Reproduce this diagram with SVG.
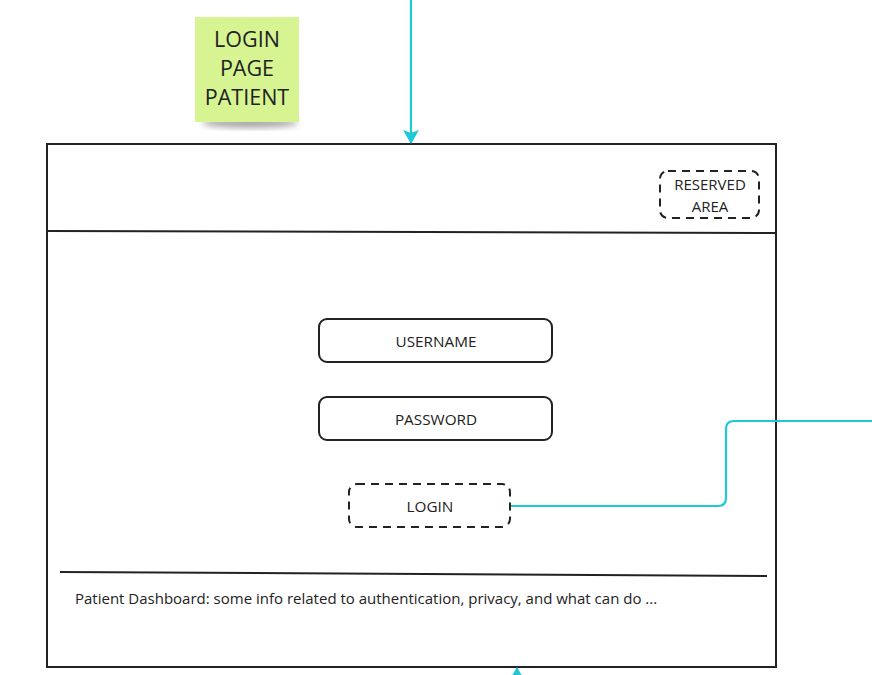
<svg xmlns="http://www.w3.org/2000/svg" width="872" height="675" viewBox="0 0 872 675">
<style>
  .t { font-family: "Open Sans", "Noto Sans", sans-serif; fill: #222; text-anchor: middle; }
  .frame { fill: #fff; stroke: #222; stroke-width: 2; }
  .box { fill: #fff; stroke: #222; stroke-width: 2; }
  .dash { fill: #fff; stroke: #222; stroke-width: 2; stroke-dasharray: 8 6; }
  .conn { fill: none; stroke: #1ec8d4; stroke-width: 2.2; }
</style>
<defs>
  <marker id="arr" viewBox="0 0 14 16" refX="13" refY="8" markerWidth="14" markerHeight="16" orient="auto-start-reverse" markerUnits="userSpaceOnUse">
    <path d="M0,0 L14,8 L0,16 L3,8 z" fill="#1ec8d4"/>
  </marker>
  <filter id="sh" x="-20%" y="-20%" width="140%" height="150%">
    <feGaussianBlur stdDeviation="3"/>
  </filter>
</defs>
<rect width="872" height="675" fill="#fff"/>

<g id="frame">
  <rect class="frame" x="47" y="144" width="729" height="523"/>
  <path d="M47,231 L776,233" stroke="#222" stroke-width="2" fill="none"/>
  <path d="M60,572 L767,576" stroke="#222" stroke-width="2" fill="none"/>
  <text class="t" x="75" y="604" font-size="15" style="text-anchor:start">Patient Dashboard: some info related to authentication, privacy, and what can do ...</text>
</g>

<g id="sticky">
  <ellipse cx="250" cy="123" rx="48" ry="5" fill="#000" opacity="0.35" filter="url(#sh)"/>
  <rect x="195" y="17" width="104" height="105" fill="#d6f592"/>
  <text class="t" x="247" y="47" font-size="21.5">LOGIN</text>
  <text class="t" x="247" y="76" font-size="21.5">PAGE</text>
  <text class="t" x="247" y="105" font-size="21.5">PATIENT</text>
</g>

<g id="reserved">
  <rect class="dash" x="660" y="171" width="99" height="47" rx="8"/>
  <text class="t" x="710" y="190" font-size="15">RESERVED</text>
  <text class="t" x="710" y="212" font-size="15">AREA</text>
</g>

<g id="username">
  <rect class="box" x="319" y="319" width="233" height="43" rx="8"/>
  <text class="t" x="436" y="347" font-size="15.3">USERNAME</text>
</g>

<g id="password">
  <rect class="box" x="319" y="397" width="233" height="43" rx="8"/>
  <text class="t" x="436" y="425" font-size="15.3">PASSWORD</text>
</g>

<g id="login">
  <rect class="dash" x="349" y="484" width="161" height="43" rx="8"/>
  <text class="t" x="430" y="512" font-size="15.3">LOGIN</text>
</g>

<g id="connectors">
  <path class="conn" d="M411,0 L411,143" marker-end="url(#arr)"/>
  <path class="conn" d="M511,506 L718,506 Q726,506 726,498 L726,429 Q726,421 734,421 L872,421"/>
  <path class="conn" d="M517,690 L517,668" marker-end="url(#arr)"/>
</g>
</svg>
